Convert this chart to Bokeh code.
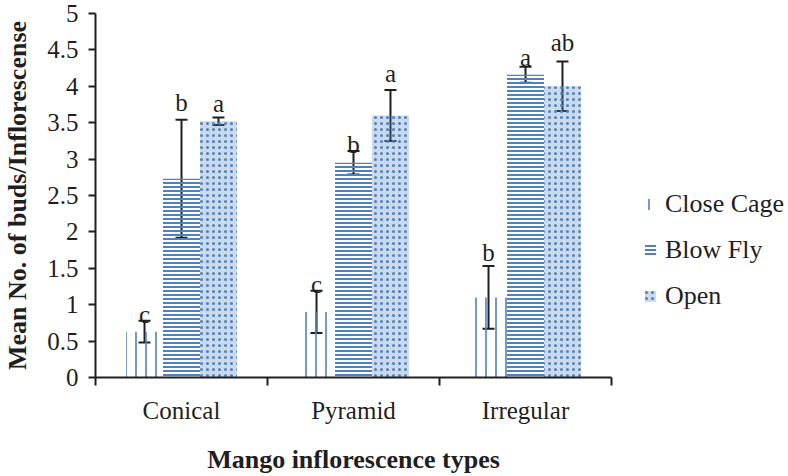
from bokeh.plotting import figure
from bokeh.models import (Range1d, FixedTicker, SingleIntervalTicker, NumeralTickFormatter,
                          CustomJSTickFormatter, Whisker, TeeHead, ColumnDataSource, Legend, LegendItem)
from bokeh.core.properties import value
from bokeh.embed import file_html
from bokeh.resources import INLINE

# ---- data ----
categories = ["Conical", "Pyramid", "Irregular"]
series = ["Close Cage", "Blow Fly", "Open"]
close_cage = [0.63, 0.90, 1.10]
blow_fly = [2.73, 2.95, 4.16]
open_ = [3.52, 3.60, 4.00]
close_cage_err = [0.15, 0.29, 0.43]
blow_fly_err = [0.81, 0.16, 0.11]
open_err = [0.05, 0.35, 0.34]
close_cage_sig = ["c", "c", "b"]
blow_fly_sig = ["b", "b", "a"]
open_sig = ["a", "a", "ab"]
close_cage_sig_y = [0.87, 1.28, 1.72]
blow_fly_sig_y = [3.78, 3.20, 4.40]
open_sig_y = [3.76, 4.17, 4.60]
y_ticks_step = 0.5

FONT = "Liberation Serif"
BLUE = "#4f81bd"
INK = "#1f1f1f"

p = figure(frame_width=516, frame_height=364, output_backend="svg", toolbar_location=None,
           x_range=Range1d(0, len(categories)), y_range=Range1d(0, 5),
           min_border_left=87, min_border_right=10, min_border_top=13, min_border_bottom=83)
p.outline_line_color = None
p.xgrid.visible = False
p.ygrid.visible = False

bar_w = 0.215
offsets = [-bar_w, 0.0, bar_w]
patterns = [dict(hatch_pattern="vertical_line", hatch_scale=10, hatch_weight=1.6,
                 fill_color=None),
            dict(hatch_pattern="horizontal_line", hatch_scale=4, hatch_weight=2,
                 fill_color=None),
            dict(hatch_pattern="dot", hatch_scale=6, hatch_weight=4,
                 fill_color=BLUE, fill_alpha=0.3)]
vals = [close_cage, blow_fly, open_]
errs = [close_cage_err, blow_fly_err, open_err]
sigs = [close_cage_sig, blow_fly_sig, open_sig]
sig_ys = [close_cage_sig_y, blow_fly_sig_y, open_sig_y]

items = []
for k in range(3):
    xs = [i + 0.5 + offsets[k] for i in range(len(categories))]
    src = ColumnDataSource(dict(
        x=xs, top=vals[k],
        upper=[v + e for v, e in zip(vals[k], errs[k])],
        lower=[v - e for v, e in zip(vals[k], errs[k])],
        sig=sigs[k], sig_y=sig_ys[k]))
    r = p.vbar(x="x", top="top", bottom=0, width=bar_w, source=src,
               line_color=None, hatch_color=BLUE, **patterns[k])
    items.append(LegendItem(label=series[k], renderers=[r]))
    w = Whisker(base="x", upper="upper", lower="lower", source=src,
                line_color=INK, line_width=2,
                upper_head=TeeHead(size=12, line_color=INK, line_width=2),
                lower_head=TeeHead(size=12, line_color=INK, line_width=2))
    p.add_layout(w)
    p.text(x="x", y="sig_y", text="sig", source=src, text_align="center",
           text_baseline="alphabetic", text_font=value(FONT), text_font_size="25px",
           text_color=INK)

# x axis
xa = p.xaxis[0]
xa.ticker = FixedTicker(ticks=[i + 0.5 for i in range(len(categories))],
                        minor_ticks=list(range(len(categories) + 1)))
xa.formatter = CustomJSTickFormatter(args=dict(cats=categories),
                                     code="return cats[Math.floor(tick)];")
xa.major_tick_line_color = None
xa.major_tick_out = 0
xa.minor_tick_out = 8
xa.minor_tick_in = 0
xa.minor_tick_line_color = INK
xa.minor_tick_line_width = 2
xa.axis_line_color = INK
xa.axis_line_width = 2
xa.major_label_standoff = 11
xa.major_label_text_font = FONT
xa.major_label_text_font_size = "25px"
xa.major_label_text_color = INK
xa.axis_label = "Mango inflorescence types"
xa.axis_label_text_font = FONT
xa.axis_label_text_font_size = "26px"
xa.axis_label_text_font_style = "bold"
xa.axis_label_text_color = INK
xa.axis_label_standoff = 18

# y axis
ya = p.yaxis[0]
ya.ticker = SingleIntervalTicker(interval=y_ticks_step, num_minor_ticks=0)
ya.formatter = NumeralTickFormatter(format="0.[0]")
ya.major_tick_out = 7
ya.major_tick_in = 0
ya.major_tick_line_color = INK
ya.major_tick_line_width = 2
ya.minor_tick_line_color = None
ya.axis_line_color = INK
ya.axis_line_width = 2
ya.major_label_standoff = 10
ya.major_label_text_font = FONT
ya.major_label_text_font_size = "25px"
ya.major_label_text_color = INK
ya.axis_label = "Mean No. of buds/Inflorescense"
ya.axis_label_text_font = FONT
ya.axis_label_text_font_size = "26px"
ya.axis_label_text_font_style = "bold"
ya.axis_label_text_color = INK
ya.axis_label_standoff = 12

legend = Legend(items=items, location=(32, 66), orientation="vertical",
                glyph_width=14, glyph_height=14, label_height=20, spacing=16,
                label_standoff=8, padding=0, margin=0,
                border_line_color=None, background_fill_color=None,
                label_text_font=FONT, label_text_font_size="26px",
                label_text_color=INK)
p.add_layout(legend, "right")

open("out.html", "w").write(file_html(p, INLINE))
